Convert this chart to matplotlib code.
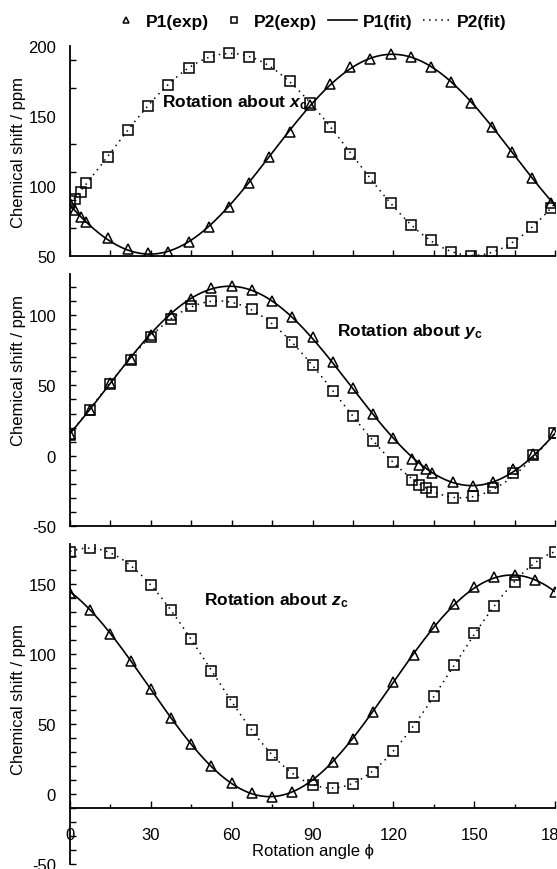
import numpy as np
import matplotlib.pyplot as plt
from matplotlib.lines import Line2D
from matplotlib.ticker import MultipleLocator, FixedLocator

plt.rcParams['font.family'] = ['Liberation Sans', 'DejaVu Sans']
plt.rcParams['axes.unicode_minus'] = False
plt.rcParams['mathtext.fontset'] = 'custom'
plt.rcParams['mathtext.it'] = 'Liberation Sans:bold:italic'
plt.rcParams['mathtext.rm'] = 'Liberation Sans:bold'

# rotation about x_c
ang_x = [0, 2, 4, 6, 14, 21.5, 29, 36.5, 44, 51.5, 59, 66.5, 74, 81.5, 89,
         96.5, 104, 111.5, 119, 126.5, 134, 141.5, 149, 156.5, 164, 171.5, 178.5]
p1_x = [88, 83, 78, 74, 62.6, 54.8, 52, 53, 60, 71, 85, 102, 121, 138.6, 158,
        172.6, 185, 191, 194.5, 192, 185, 174, 159.5, 142, 124, 105.5, 87.6]
p2_x = [89, 91, 96, 102, 121, 140, 157, 172, 184, 192, 195, 192, 187, 175, 159.5,
        142, 123, 105.5, 88, 72, 61.4, 53, 50, 53, 59, 71, 84.5]

# rotation about y_c
ang_y = [0, 7.5, 15, 22.5, 30, 37.5, 45, 52.5, 60, 67.5, 75, 82.5, 90, 97.5,
         105, 112.5, 120, 127, 129.5, 132, 134.5, 142, 149.5, 157, 164.5, 172, 179.5]
p1_y = [15.8, 32.6, 51.5, 69, 85.8, 99.8, 111, 119, 120.3, 118, 110, 98.8, 84,
        66.7, 47.8, 29.5, 12.3, -1.9, -6.4, -9.5, -12.5, -18.9, -21.3, -18.4, -9.5, 1.2, 16.5]
p2_y = [15, 32.4, 51, 68, 84.4, 97.4, 106, 110, 109, 104, 94, 81, 64.3,
        46, 28, 10.6, -4.7, -17, -20.8, -23, -25.5, -30, -28.4, -23, -12.3, 0.7, 16]

# rotation about z_c
ang_z = [0, 7.5, 15, 22.5, 30, 37.5, 45, 52.5, 60, 67.5, 75, 82.5, 90, 97.5,
         105, 112.5, 120, 127.5, 135, 142.5, 150, 157.5, 165, 172.5, 180]
p1_z = [143.6, 131, 114, 95, 75, 54, 36, 19.8, 7.9, 0.7, -2.4, 1.7, 10, 23,
        39, 58.8, 79.8, 99.5, 119, 135.7, 147.6, 155, 156.4, 153, 144]
p2_z = [172.6, 175.5, 172, 163, 149, 131, 110.5, 88, 66, 46, 28, 14.8, 6.7, 4,
        7.4, 16, 31, 48, 70, 92, 114.8, 134.5, 151, 165, 173]


def fit_curve(ang, val, phi):
    # least squares fit: a + b cos(2phi) + c sin(2phi)
    t = np.radians(np.asarray(ang))
    A = np.column_stack([np.ones_like(t), np.cos(2 * t), np.sin(2 * t)])
    coef = np.linalg.lstsq(A, np.asarray(val), rcond=None)[0]
    tp = np.radians(phi)
    return coef[0] + coef[1] * np.cos(2 * tp) + coef[2] * np.sin(2 * tp)


fig = plt.figure(figsize=(5.57, 8.70), dpi=100)
left, width = 70 / 557, 485 / 557
ax1 = fig.add_axes([left, 0.7046, width, 0.2414])
ax2 = fig.add_axes([left, 0.3939, width, 0.2900])
ax3 = fig.add_axes([left, 0.00575, width, 0.3679])

phi = np.linspace(0, 180, 361)
mk = dict(linestyle='none', mfc='none', mec='black', mew=1.1, ms=6.5)

panels = [
    (ax1, ang_x, p1_x, p2_x, (50, 200)),
    (ax2, ang_y, p1_y, p2_y, (-50, 129)),
    (ax3, ang_z, p1_z, p2_z, (-50, 178.5)),
]
for ax, ang, p1, p2, yl in panels:
    ax.plot(phi, fit_curve(ang, p1, phi), color='black', lw=1.2)
    ax.plot(phi, fit_curve(ang, p2, phi), color='black', lw=1.1, linestyle=(0, (1, 3)))
    ax.plot(ang, p1, marker='^', **mk)
    ax.plot(ang, p2, marker='s', **mk)
    ax.set_xlim(0, 180)
    ax.set_ylim(*yl)
    ax.spines['top'].set_visible(False)
    ax.spines['right'].set_visible(False)
    ax.spines['left'].set_linewidth(1.3)
    ax.spines['bottom'].set_linewidth(1.3)
    ax.tick_params(direction='in', labelsize=12, width=1.0, length=4)
    ax.tick_params(which='minor', direction='in', width=1.0, length=3)
    ax.tick_params(axis='y', pad=10)

# top panel: labels every 50, marks every 20
ax1.yaxis.set_major_locator(FixedLocator([50, 100, 150, 200]))
ax1.yaxis.set_minor_locator(FixedLocator(np.arange(50, 200, 20)))
ax1.tick_params(axis='y', which='major', length=0)
ax1.tick_params(axis='y', which='minor', length=4)
ax1.xaxis.set_major_locator(MultipleLocator(15))
ax1.tick_params(axis='x', labelbottom=False)

ax2.yaxis.set_major_locator(MultipleLocator(50))
ax2.yaxis.set_minor_locator(MultipleLocator(10))
ax2.tick_params(axis='y', which='minor', length=4)
ax2.xaxis.set_major_locator(MultipleLocator(15))
ax2.tick_params(axis='x', labelbottom=False)

ax3.spines['bottom'].set_position(('data', -10))
ax3.yaxis.set_major_locator(MultipleLocator(50))
ax3.yaxis.set_minor_locator(MultipleLocator(10))
ax3.tick_params(axis='y', which='minor', length=4)
ax3.xaxis.set_major_locator(MultipleLocator(30))
ax3.xaxis.set_minor_locator(MultipleLocator(15))
ax3.tick_params(axis='x', which='major', length=5, pad=14)
ax3.tick_params(axis='x', which='minor', length=3)

ax1.text(61, 160, r'Rotation about $\mathit{x}_\mathrm{c}$', fontsize=12.5,
         fontweight='bold', ha='center', va='center')
ax2.text(126, 88.6, r'Rotation about $\mathit{y}_\mathrm{c}$', fontsize=12.5,
         fontweight='bold', ha='center', va='center')
ax3.text(76.5, 139, r'Rotation about $\mathit{z}_\mathrm{c}$', fontsize=12.5,
         fontweight='bold', ha='center', va='center')

for yc in (152, 370, 700):
    fig.text(19 / 557, 1 - yc / 870, 'Chemical shift / ppm', rotation=90,
             ha='center', va='center', fontsize=12)
fig.text(313 / 557, 1 - 852 / 870, 'Rotation angle \u03d5', ha='center',
         va='center', fontsize=12)

handles = [
    Line2D([], [], marker='^', **mk),
    Line2D([], [], marker='s', **mk),
    Line2D([], [], color='black', lw=1.2),
    Line2D([], [], color='black', lw=1.1, linestyle=(0, (1, 3))),
]
labels = ['P1(exp)', 'P2(exp)', 'P1(fit)', 'P2(fit)']
fig.legend(handles, labels, loc='center', bbox_to_anchor=(0.555, 1 - 22 / 870),
           ncol=4, frameon=False, prop={'weight': 'bold', 'size': 12.5},
           handlelength=1.7, handletextpad=0.3, columnspacing=0.6, markerscale=0.65)

fig.savefig('out.png', dpi=100)
